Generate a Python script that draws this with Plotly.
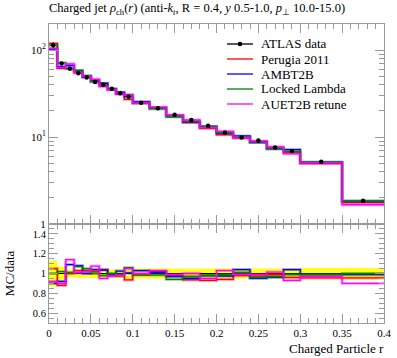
import plotly.graph_objects as go

# ---------------- data ----------------
edges = [0.0, 0.01, 0.02, 0.03, 0.04, 0.05, 0.06, 0.07, 0.08, 0.09, 0.10,
         0.12, 0.14, 0.16, 0.18, 0.20, 0.22, 0.24, 0.26, 0.28, 0.30, 0.35, 0.40]
data_vals = [114, 70, 61, 54, 48.5, 43, 40, 36, 32, 29, 24.8, 21.4, 18.1, 15.7,
             13.5, 11.3, 9.9, 9.1, 7.6, 6.9, 5.2, 1.85]
data_rel_unc = [0.13, 0.07, 0.04, 0.04, 0.045, 0.045, 0.04, 0.04, 0.045, 0.05, 0.05,
                0.05, 0.05, 0.05, 0.05, 0.05, 0.05, 0.05, 0.05, 0.05, 0.055, 0.055]

ratio_perugia = [1.05, 0.88, 1.00, 1.03, 1.03, 1.02, 1.04, 0.975, 0.975, 0.935, 0.99,
                 1.02, 0.98, 0.935, 0.93, 0.94, 0.98, 0.975, 0.99, 0.96, 0.955, 0.955]
ratio_ambt2b = [0.90, 0.92, 1.09, 1.08, 1.00, 1.04, 1.035, 0.99, 1.025, 1.005, 1.03,
                1.01, 0.97, 0.95, 0.98, 0.975, 1.04, 0.95, 0.96, 1.04, 0.99, 0.99]
ratio_locked = [1.00, 1.02, 1.01, 1.07, 1.05, 1.00, 0.98, 1.00, 0.99, 1.06, 0.985,
                0.985, 0.94, 0.97, 0.98, 0.99, 1.01, 0.96, 0.97, 0.99, 0.99, 1.00]
ratio_auet2b = [0.92, 0.90, 1.14, 1.01, 1.02, 1.075, 0.95, 0.975, 0.98, 1.05, 1.00,
                1.03, 0.99, 1.00, 0.95, 1.03, 0.99, 0.99, 1.015, 0.93, 0.97, 0.90]

mc_names = ["Perugia 2011", "AMBT2B", "Locked Lambda", "AUET2B retune"]
mc_colors = ["#ff0000", "#0000ff", "#008000", "#ff00ff"]
mc_ratios = [ratio_perugia, ratio_ambt2b, ratio_locked, ratio_auet2b]

x_ticks = [0, 0.05, 0.1, 0.15, 0.2, 0.25, 0.3, 0.35, 0.4]
x_ticklabels = ["0", "0.05", "0.1", "0.15", "0.2", "0.25", "0.3", "0.35", "0.4"]
ratio_ticks = [0.6, 0.8, 1.0, 1.2, 1.4]
ratio_ticklabels = ["0.6", "0.8", "1", "1.2", "1.4"]

FONT = "Liberation Serif"
AXC = "#9a9a9a"

W, H = 397, 358
ML, MR, MT, MB = 49, 13, 24, 35
PW, PH = W - ML - MR, H - MT - MB

centers = [(edges[i] + edges[i + 1]) / 2 for i in range(len(data_vals))]


def step(vals):
    return list(vals) + [vals[-1]]


def px_x(p):  # pixel -> paper
    return (p - ML) / PW


def px_y(p):
    return (H - MB - p) / PH


fig = go.Figure()

# ---- ratio panel: data uncertainty band ----
lo = [1 - u for u in data_rel_unc]
hi = [1 + u for u in data_rel_unc]
fig.add_trace(go.Scatter(x=edges, y=step(lo), mode="lines", line=dict(shape="hv", width=0, color="yellow"),
                         showlegend=False, hoverinfo="skip", xaxis="x2", yaxis="y2"))
fig.add_trace(go.Scatter(x=edges, y=step(hi), mode="lines", line=dict(shape="hv", width=0, color="yellow"),
                         fill="tonexty", fillcolor="rgba(255,255,0,0.9)",
                         showlegend=False, hoverinfo="skip", xaxis="x2", yaxis="y2"))
fig.add_trace(go.Scatter(x=edges, y=[1.0] * len(edges), mode="lines", line=dict(width=1, color="black"),
                         showlegend=False, hoverinfo="skip", xaxis="x2", yaxis="y2"))

# ---- MC in both panels ----
for name, col, rat in zip(mc_names, mc_colors, mc_ratios):
    mc_vals = [d * r for d, r in zip(data_vals, rat)]
    fig.add_trace(go.Scatter(x=edges, y=step(mc_vals), mode="lines",
                             line=dict(shape="hv", width=3, color=col), opacity=0.3,
                             showlegend=False, hoverinfo="skip", xaxis="x", yaxis="y"))
    fig.add_trace(go.Scatter(x=edges, y=step(mc_vals), mode="lines", name=name, showlegend=False,
                             line=dict(shape="hv", width=1.3, color=col),
                             xaxis="x", yaxis="y"))
    fig.add_trace(go.Scatter(x=edges, y=step(rat), mode="lines",
                             line=dict(shape="hv", width=3, color=col), opacity=0.3,
                             showlegend=False, hoverinfo="skip", xaxis="x2", yaxis="y2"))
    fig.add_trace(go.Scatter(x=edges, y=step(rat), mode="lines", showlegend=False,
                             line=dict(shape="hv", width=1.3, color=col),
                             xaxis="x2", yaxis="y2"))

# ---- data points ----
fig.add_trace(go.Scatter(x=centers, y=data_vals, mode="markers", name="ATLAS data", showlegend=False,
                         marker=dict(color="black", size=4.5),
                         error_y=dict(type="data", array=[d * u * 0.6 for d, u in zip(data_vals, data_rel_unc)],
                                      color="black", thickness=1, width=0),
                         xaxis="x", yaxis="y"))

# ---- manual legend ----
leg_names = ["ATLAS data"] + mc_names
leg_colors = ["black"] + mc_colors
shapes = []
annotations = []
for i, (nm, col) in enumerate(zip(leg_names, leg_colors)):
    yp = px_y(44 + 15 * i)
    shapes.append(dict(type="line", xref="paper", yref="paper", x0=px_x(227), x1=px_x(253), y0=yp, y1=yp,
                       line=dict(color=col, width=1.3)))
    if i == 0:
        shapes.append(dict(type="circle", xref="paper", yref="paper",
                           x0=px_x(237.7), x1=px_x(242.3), y0=px_y(46.3), y1=px_y(41.7),
                           fillcolor="black", line=dict(color="black", width=0)))
    annotations.append(dict(text=nm, xref="paper", yref="paper", x=px_x(259), y=yp, xanchor="left",
                            yanchor="middle", showarrow=False, font=dict(family=FONT, size=13)))

minor_log = []
for dec in [1, 10, 100]:
    for k in range(2, 10):
        minor_log.append(dec * k)

common_x = dict(range=[0, 0.4], showline=True, linecolor=AXC, linewidth=1, mirror="ticks",
                ticks="inside", ticklen=9, tickcolor=AXC, tickvals=x_ticks, showgrid=False, zeroline=False,
                minor=dict(ticks="inside", ticklen=5, tickcolor=AXC, dtick=0.01, tick0=0))

annotations += [
    dict(text="Charged jet <i>ρ</i><sub>ch</sub>(<i>r</i>) (anti-<i>k</i><sub><i>t</i></sub>, R = 0.4, "
              "<i>y</i> 0.5-1.0, <i>p</i><sub>⊥</sub> 10.0-15.0)",
         xref="paper", yref="paper", x=0, y=1, xanchor="left", yanchor="bottom", yshift=5, xshift=-2,
         showarrow=False, font=dict(family=FONT, size=12.5)),
    dict(text="Charged Particle r", xref="paper", yref="paper", x=1, y=0, xanchor="right",
         yanchor="top", yshift=-16, xshift=2, showarrow=False, font=dict(family=FONT, size=13)),
    dict(text="MC/data", xref="paper", yref="paper", x=0, y=0.165, xanchor="right", yanchor="middle",
         xshift=-30, textangle=-90, showarrow=False, font=dict(family=FONT, size=13)),
]

fig.update_layout(
    width=W, height=H,
    margin=dict(l=ML, r=MR, t=MT, b=MB, autoexpand=False),
    paper_bgcolor="white", plot_bgcolor="white",
    font=dict(family=FONT, size=11, color="black"),
    showlegend=False,
    xaxis=dict(domain=[0, 1], anchor="y", showticklabels=False, **common_x),
    yaxis=dict(domain=[0.331, 1], anchor="x", type="log", range=[0, 2.3],
               showline=True, linecolor=AXC, mirror="ticks", ticks="inside", ticklen=9, tickcolor=AXC,
               tickvals=[1, 10, 100], ticktext=["1", "10<sup>1</sup>", "10<sup>2</sup>"],
               minor=dict(ticks="inside", ticklen=5, tickcolor=AXC, tickvals=minor_log),
               showgrid=False, zeroline=False, tickfont=dict(size=11), automargin=False),
    xaxis2=dict(domain=[0, 1], anchor="y2", ticktext=x_ticklabels, showticklabels=True,
                tickfont=dict(size=11), automargin=False, **common_x),
    yaxis2=dict(domain=[0, 0.331], anchor="x2", range=[0.5, 1.5],
                showline=True, linecolor=AXC, mirror="ticks", ticks="inside", ticklen=9, tickcolor=AXC,
                tickvals=ratio_ticks, ticktext=ratio_ticklabels,
                minor=dict(ticks="inside", ticklen=5, tickcolor=AXC, dtick=0.05, tick0=0.5),
                showgrid=False, zeroline=False, tickfont=dict(size=10.5), automargin=False),
    shapes=shapes,
    annotations=annotations,
)

# remove the browser's default 8px body margin so the figure sits at the page origin
fig.write_html("out.html", config={"displayModeBar": False},
               post_script="document.body.style.margin='0px';")
